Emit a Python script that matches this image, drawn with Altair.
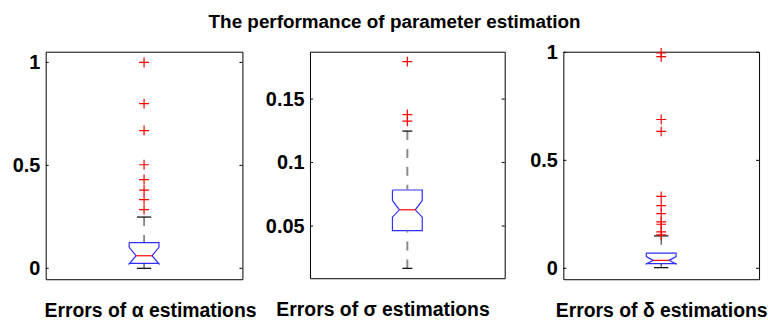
import altair as alt
import pandas as pd

# ---------------- data ----------------
titles = ["Errors of α estimations", "Errors of σ estimations", "Errors of δ estimations"]

# [lower whisker, q1, median, q3, upper whisker]
alpha_stats = [0.0, 0.024, 0.061, 0.125, 0.249]
sigma_stats = [0.0167, 0.0464, 0.0628, 0.0784, 0.1248]
delta_stats = [0.003, 0.0216, 0.0368, 0.0704, 0.150]

# notch [low, high]
alpha_notch = [0.022, 0.102]
sigma_notch = [0.057, 0.0701]
delta_notch = [0.0196, 0.054]

alpha_out = [1.0, 0.80, 0.669, 0.503, 0.431, 0.380, 0.334, 0.285]
sigma_out = [0.1795, 0.1378, 0.1326]
delta_out = [0.997, 0.980, 0.689, 0.634, 0.333, 0.290, 0.253, 0.215, 0.204, 0.169, 0.155]

alpha_domain = [-0.053, 1.052]
sigma_domain = [0.0089, 0.1873]
delta_domain = [-0.0506, 1.003]

alpha_ticks = [0, 0.5, 1]
sigma_ticks = [0.05, 0.1, 0.15]
delta_ticks = [0, 0.5, 1]

FONT = "Liberation Sans"
BOX_COLOR = "#2f2fff"
OUT_COLOR = "#ff0000"
PLUS = "M-1,0L1,0M0,-1L0,1"


def panel(stats, notch, outliers, domain, ticks, title, W, H, capw, wcolor, wwidth, tdx):
    lo, q1, med, q3, hi = stats
    nlo, nhi = notch
    c, hw, ins = 0.5, 15.0 / W, 7.0 / W
    xs = alt.Scale(domain=[0, 1], nice=False, zero=False)
    ys = alt.Scale(domain=domain, nice=False, zero=False)

    xaxis = alt.Axis(title=title, labels=False, ticks=False, domain=False, grid=False,
                     titleFont=FONT, titleFontSize=19.5, titleFontWeight="bold",
                     titleColor="black", titleY=38, titleX=W / 2 + tdx,
                     titleBaseline="alphabetic")
    yaxis = alt.Axis(values=ticks, format="~g", ticks=False, domain=False, grid=False,
                     labelFont=FONT, labelFontSize=20, labelFontWeight="bold",
                     labelColor="black", labelPadding=6, title=None)

    poly = pd.DataFrame({
        "o": list(range(11)),
        "x": [c - hw, c + hw, c + hw, c + hw - ins, c + hw, c + hw,
              c - hw, c - hw, c - hw + ins, c - hw, c - hw],
        "y": [q3, q3, nhi, med, nlo, q1, q1, nlo, med, nhi, q3],
    })
    box = alt.Chart(poly).mark_line(color=BOX_COLOR, strokeWidth=1.2).encode(
        x=alt.X("x:Q", scale=xs, axis=xaxis),
        y=alt.Y("y:Q", scale=ys, axis=yaxis),
        order="o:Q",
    )

    one = pd.DataFrame({"c": [c], "lo": [lo], "q1": [q1], "med": [med], "q3": [q3], "hi": [hi],
                        "ml": [c - hw + ins], "mr": [c + hw - ins],
                        "cl": [c - capw / W], "cr": [c + capw / W]})
    base = alt.Chart(one)
    wh_up = base.mark_rule(color=wcolor, strokeWidth=wwidth, strokeDash=[9, 9]).encode(
        x=alt.X("c:Q", scale=xs), y=alt.Y("hi:Q", scale=ys), y2="q3:Q")
    wh_dn = base.mark_rule(color=wcolor, strokeWidth=wwidth, strokeDash=[9, 9]).encode(
        x=alt.X("c:Q", scale=xs), y=alt.Y("lo:Q", scale=ys), y2="q1:Q")
    cap_up = base.mark_rule(color="black", strokeWidth=1.2).encode(
        x=alt.X("cl:Q", scale=xs), x2="cr:Q", y=alt.Y("hi:Q", scale=ys))
    cap_dn = base.mark_rule(color="black", strokeWidth=1.2).encode(
        x=alt.X("cl:Q", scale=xs), x2="cr:Q", y=alt.Y("lo:Q", scale=ys))
    median = base.mark_rule(color=OUT_COLOR, strokeWidth=1.2).encode(
        x=alt.X("ml:Q", scale=xs), x2="mr:Q", y=alt.Y("med:Q", scale=ys))

    outs = alt.Chart(pd.DataFrame({"c": [c] * len(outliers), "v": outliers})).mark_point(
        shape=PLUS, size=100, filled=False, color=OUT_COLOR, strokeWidth=1.2, opacity=1
    ).encode(x=alt.X("c:Q", scale=xs), y=alt.Y("v:Q", scale=ys))

    tk = alt.Chart(pd.DataFrame({"t": ticks}))
    tl = tk.mark_rule(color="black").encode(y=alt.Y("t:Q", scale=ys), x=alt.value(0), x2=alt.value(3))
    tr = tk.mark_rule(color="black").encode(y=alt.Y("t:Q", scale=ys), x=alt.value(W - 3), x2=alt.value(W))

    return alt.layer(box, wh_up, wh_dn, cap_up, cap_dn, median, outs, tl, tr).properties(width=W, height=H)


p1 = panel(alpha_stats, alpha_notch, alpha_out, alpha_domain, alpha_ticks, titles[0], 198, 229, 7.2, "#222222", 1, 6)
p2 = panel(sigma_stats, sigma_notch, sigma_out, sigma_domain, sigma_ticks, titles[1], 196, 228, 5.0, "#8a8a8a", 2, -25)
p3 = panel(delta_stats, delta_notch, delta_out, delta_domain, delta_ticks, titles[2], 197, 229, 7.2, "#222222", 1, 0)

inner = alt.hconcat(p1, p2, spacing=7)
chart = alt.hconcat(inner, p3, spacing=23).properties(
    title=alt.TitleParams("The performance of parameter estimation", font=FONT, fontSize=19,
                          fontWeight="bold", color="black", anchor="middle", offset=10, dx=5),
    padding={"left": 11, "top": 12, "right": 0, "bottom": 0},
    background="white",
).configure_view(stroke="black", strokeWidth=1)

chart.save("out.html", embed_options={"renderer": "svg", "actions": False})
